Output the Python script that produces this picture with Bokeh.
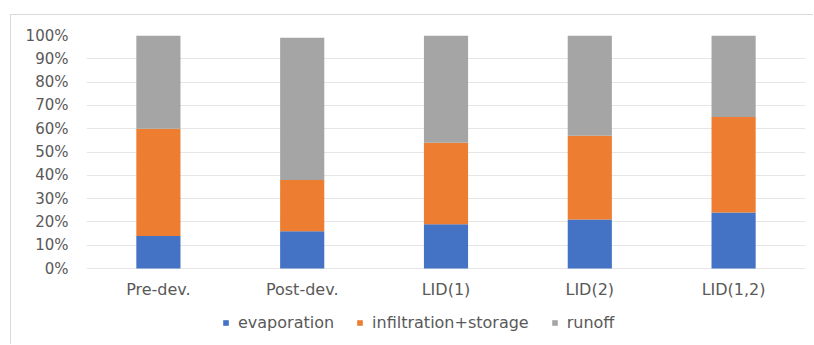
from bokeh.plotting import figure
from bokeh.models import FactorRange, Legend, LegendItem, NumeralTickFormatter, FixedTicker, ColumnDataSource
from bokeh.core.properties import value
from bokeh.embed import file_html
from bokeh.resources import INLINE

categories = ["Pre-dev.", "Post-dev.", "LID(1)", "LID(2)", "LID(1,2)"]
series = ["evaporation", "infiltration+storage", "runoff"]
evaporation = [0.14, 0.16, 0.19, 0.21, 0.24]
infiltration_storage = [0.46, 0.22, 0.35, 0.36, 0.41]
runoff = [0.40, 0.61, 0.46, 0.43, 0.35]
colors = ["#4472C4", "#ED7D31", "#A5A5A5"]
y_ticks = [i / 10 for i in range(11)]

FONT = "DejaVu Sans"
TXT = "#595959"

src = ColumnDataSource(dict(cat=categories, evaporation=evaporation,
                            infiltration_storage=infiltration_storage, runoff=runoff,
                            base=[0] * len(categories)))

p = figure(width=803, height=330, x_range=FactorRange(*categories), y_range=(-0.309, 1),
           output_backend="svg", toolbar_location=None,
           min_border_left=75, min_border_right=9, min_border_top=20, min_border_bottom=5,
           styles={"margin-left": "10px", "margin-top": "14px",
                   "border-left": "1px solid #D9D9D9", "border-top": "1px solid #D9D9D9"})

rs = p.vbar_stack(["evaporation", "infiltration_storage", "runoff"], x="cat", width=0.307,
                  color=colors, line_color=None, source=src)

p.text(x="cat", y="base", text="cat", source=src, y_offset=21,
       text_align="center", text_baseline="middle",
       text_font=value(FONT), text_font_size="16px", text_color=TXT)

p.outline_line_color = None
p.background_fill_color = "white"
p.border_fill_color = "white"

p.ygrid.ticker = FixedTicker(ticks=y_ticks)
p.ygrid.grid_line_color = "#E6E6E6"
p.xgrid.grid_line_color = None
p.xaxis.visible = False

p.yaxis.ticker = FixedTicker(ticks=y_ticks)
p.yaxis.formatter = NumeralTickFormatter(format="0%")
p.yaxis.axis_line_color = None
p.yaxis.major_tick_line_color = None
p.yaxis.minor_tick_line_color = None
p.yaxis.major_label_standoff = 12
p.yaxis.major_label_text_font = FONT
p.yaxis.major_label_text_font_size = "15px"
p.yaxis.major_label_text_color = TXT

legend = Legend(items=[LegendItem(label=s, renderers=[r]) for s, r in zip(series, rs)],
                orientation="horizontal", location=(136, 8),
                glyph_width=7, glyph_height=7, label_standoff=9, spacing=22,
                padding=0, margin=0, border_line_color=None, background_fill_alpha=0,
                label_text_font=FONT, label_text_font_size="16px", label_text_color=TXT)
p.add_layout(legend, "center")

open("out.html", "w").write(file_html(p, INLINE))
